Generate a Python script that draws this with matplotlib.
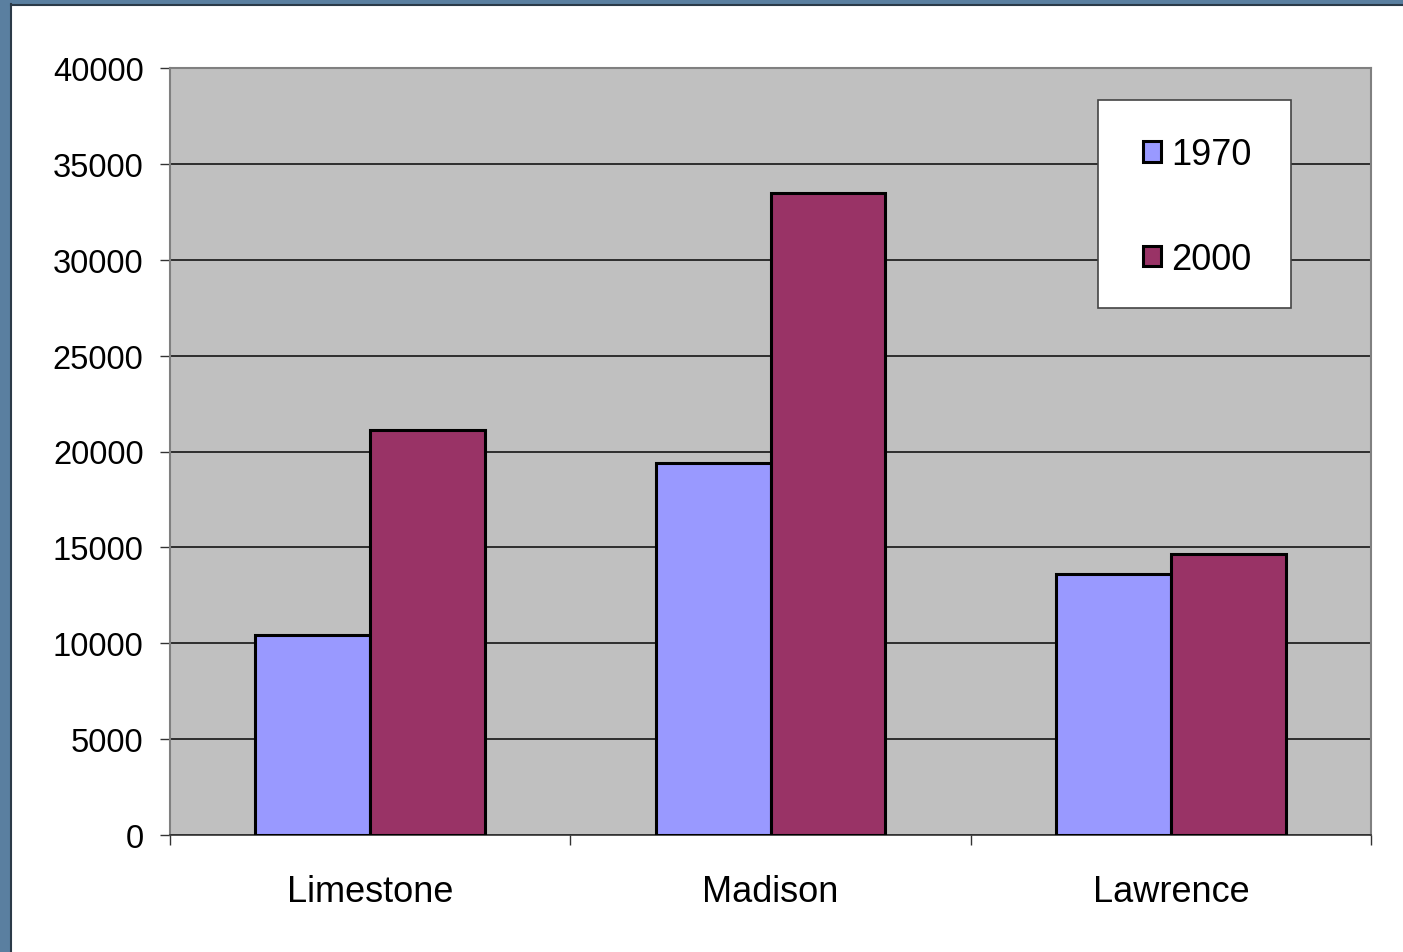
import matplotlib
matplotlib.use("Agg")
import matplotlib.pyplot as plt
from matplotlib.patches import Rectangle
import numpy as np

counties = ["Limestone", "Madison", "Lawrence"]
series_names = ["1970", "2000"]
values_1970 = [10430, 19400, 13620]
values_2000 = [21120, 33480, 14650]
yticks = [0, 5000, 10000, 15000, 20000, 25000, 30000, 35000, 40000]

plt.rcParams['font.family'] = ['Liberation Sans', 'DejaVu Sans']

W, H = 1403, 953
fig = plt.figure(figsize=(W / 100, H / 100), dpi=100)
fig.patch.set_facecolor("white")
# slide background strips
fig.patches.append(Rectangle((0, 0), 10 / W, 1, transform=fig.transFigure,
                             facecolor="#5a7fa0", edgecolor="none", zorder=0))
fig.patches.append(Rectangle((0, 1 - 5 / H), 1, 5 / H, transform=fig.transFigure,
                             facecolor="#5a7fa0", edgecolor="none", zorder=0))
fig.add_artist(plt.Line2D([10.5 / W, 10.5 / W], [0, 1 - 5 / H], transform=fig.transFigure,
                          color="#2b3a48", lw=1.5))
fig.add_artist(plt.Line2D([10.5 / W, 1], [1 - 5.5 / H, 1 - 5.5 / H], transform=fig.transFigure,
                          color="#2b3a48", lw=1.5))

left, right, top, bottom = 170, 1371, 69, 836
ax = fig.add_axes([left / W, 1 - bottom / H, (right - left) / W, (bottom - top) / H])
ax.set_facecolor("#c0c0c0")

x = np.arange(len(counties))
w = 0.2865
ax.bar(x - w / 2, values_1970, w, color="#9999ff", edgecolor="black", linewidth=2.2,
       label=series_names[0], zorder=3)
ax.bar(x + w / 2, values_2000, w, color="#993366", edgecolor="black", linewidth=2.2,
       label=series_names[1], zorder=3)

ax.set_xlim(-0.5, 2.5)
ax.set_ylim(0, 40000)
ax.set_yticks(yticks)
ax.set_yticklabels([str(v) for v in yticks], fontsize=23.5)
ax.yaxis.grid(True, color="#222222", linewidth=1.3, zorder=1)
ax.set_axisbelow(True)

ax.set_xticks([-0.5, 0.5, 1.5, 2.5])
ax.set_xticklabels([])
ax.set_xticks(x, minor=True)
ax.set_xticklabels(counties, minor=True, fontsize=26)
ax.tick_params(axis="x", which="minor", length=0, pad=28)
ax.tick_params(axis="x", which="major", length=7, width=1, color="#333333", direction="out")
ax.tick_params(axis="y", length=7, width=1, color="#333333", direction="out", pad=12)

for s in ["top", "right", "left"]:
    ax.spines[s].set_color("#808080")
    ax.spines[s].set_linewidth(1.5)
ax.spines["bottom"].set_color("#333333")
ax.spines["bottom"].set_linewidth(1.2)

# legend box (frame drawn separately, content centred in it)
bx0, bx1, by0, by1 = 1098, 1291, 101, 309
fx0 = (bx0 - left) / (right - left)
fw = (bx1 - bx0) / (right - left)
fy0 = 1 - (by1 - top) / (bottom - top)
fh = (by1 - by0) / (bottom - top)
ax.add_patch(Rectangle((fx0, fy0), fw, fh, transform=ax.transAxes, facecolor="white",
                       edgecolor="#444444", linewidth=1.2, zorder=4))
leg = ax.legend(loc="center", bbox_to_anchor=(fx0 + fw / 2 + 0.002, fy0 + fh / 2 - 0.004),
                fontsize=26, frameon=False, borderaxespad=0, borderpad=0,
                handlelength=0.5, handleheight=0.5, handletextpad=0.28, labelspacing=1.93)
leg.set_zorder(5)
for h in leg.legend_handles:
    h.set_linewidth(2.2)

fig.savefig("out.png", dpi=100)
